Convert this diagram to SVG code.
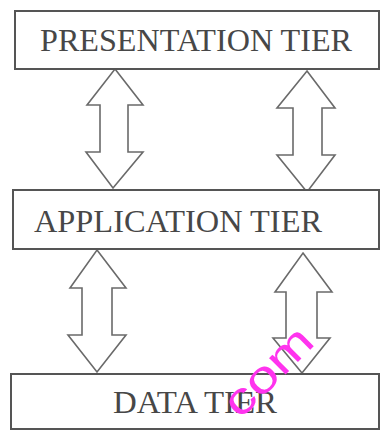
<svg xmlns="http://www.w3.org/2000/svg" width="380" height="430" viewBox="0 0 380 430">
  <style>
    .box { fill: #ffffff; stroke: #555555; stroke-width: 2; }
    .lbl { font-family: "Liberation Serif", "Times New Roman", serif; font-size: 31px; fill: #474747; }
    .arrow { fill: #ffffff; stroke: #6a6a6a; stroke-width: 1.6; stroke-linejoin: miter; }
    .wm { font-family: "Liberation Sans", Arial, sans-serif; font-size: 44px; fill: #ff33ee; }
  </style>
  <rect x="0" y="0" width="380" height="430" fill="#ffffff"/>
  <g id="connectors">
    <polygon class="arrow" points="115,69 143,105 128,105 128,152 143,152 113,188 86,152 100,152 100,105 87,105"/>
    <polygon class="arrow" points="307,71 335,108 322,108 322,155 335,155 307,192 277,155 293,155 293,108 277,108"/>
    <polygon class="arrow" points="97,250 126,288 112,288 112,335 126,335 97,372 68,335 82,335 82,288 70,288"/>
    <polygon class="arrow" points="303,253 332,292 317,292 317,338 330,338 302,373 273,338 286,338 286,292 275,292"/>
  </g>
  <g id="presentation-tier">
    <rect class="box" x="15" y="11" width="364" height="58"/>
    <text class="lbl" x="40" y="51" textLength="312" lengthAdjust="spacingAndGlyphs">PRESENTATION TIER</text>
  </g>
  <g id="application-tier">
    <rect class="box" x="13" y="190" width="366" height="59"/>
    <text class="lbl" x="34" y="232" textLength="288" lengthAdjust="spacingAndGlyphs">APPLICATION TIER</text>
  </g>
  <g id="data-tier">
    <rect class="box" x="11" y="374" width="368" height="55"/>
    <text class="lbl" x="113" y="413" textLength="164" lengthAdjust="spacingAndGlyphs">DATA TIER</text>
  </g>
  <text class="wm" x="0" y="0" transform="translate(240,420) rotate(-45)" textLength="108" lengthAdjust="spacingAndGlyphs">com</text>
</svg>
